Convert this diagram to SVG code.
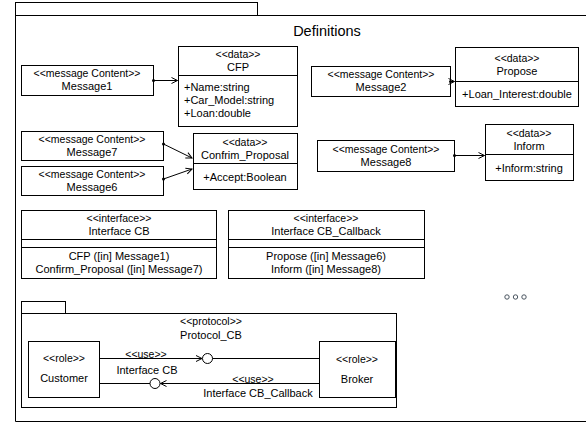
<svg xmlns="http://www.w3.org/2000/svg" width="586" height="423" viewBox="0 0 586 423">
<defs>
<style>
.b{fill:#fff;stroke:#000;stroke-width:1}
.l{stroke:#000;stroke-width:1;fill:none}
text{font-family:"Liberation Sans",Arial,sans-serif;font-size:11px;fill:#000;text-anchor:middle}
.s{font-size:10.5px}
.st{text-anchor:start}
</style>
<marker id="arr" markerWidth="8" markerHeight="8" refX="7" refY="4" orient="auto" markerUnits="userSpaceOnUse">
<path d="M1,1 L7,4 L1,7" fill="none" stroke="#000" stroke-width="1"/>
</marker>
<marker id="dot" markerWidth="4" markerHeight="4" refX="2" refY="2" markerUnits="userSpaceOnUse">
<circle cx="2" cy="2" r="1.5" fill="#000"/>
</marker>
</defs>
<rect width="586" height="423" fill="#fff"/>
<g id="frame">
<rect x="15.5" y="2.5" width="242" height="13" class="b"/>
<path d="M15.5,15.5 H590 M15.5,15.5 V421.5 H590" class="l"/>
<text x="327" y="36" style="font-size:14.5px">Definitions</text>
</g>
<g id="Message1">
<rect x="21.5" y="65.5" width="132" height="30" class="b"/>
<text x="87" y="77" class="s">&lt;&lt;message Content&gt;&gt;</text>
<text x="87" y="90">Message1</text>
</g>
<g id="CFP">
<rect x="178.5" y="46.5" width="119" height="80" class="b"/>
<line x1="178.5" y1="75.5" x2="297.5" y2="75.5" class="l"/>
<text x="238" y="58" class="s">&lt;&lt;data&gt;&gt;</text>
<text x="238" y="71">CFP</text>
<text x="184" y="91" class="st">+Name:string</text>
<text x="184" y="104" class="st">+Car_Model:string</text>
<text x="184" y="117" class="st">+Loan:double</text>
</g>
<g id="Message2">
<rect x="311.5" y="66.5" width="139" height="30" class="b"/>
<text x="381" y="78" class="s">&lt;&lt;message Content&gt;&gt;</text>
<text x="381" y="91">Message2</text>
</g>
<g id="Propose">
<rect x="455.5" y="47.5" width="123" height="59" class="b"/>
<line x1="455.5" y1="81.5" x2="578.5" y2="81.5" class="l"/>
<text x="517" y="62" class="s">&lt;&lt;data&gt;&gt;</text>
<text x="517" y="75">Propose</text>
<text x="517" y="98">+Loan_Interest:double</text>
</g>
<g id="Message7">
<rect x="21.5" y="131.5" width="142" height="29" class="b"/>
<text x="92" y="143" class="s">&lt;&lt;message Content&gt;&gt;</text>
<text x="92" y="156">Message7</text>
</g>
<g id="Message6">
<rect x="21.5" y="166.5" width="142" height="29" class="b"/>
<text x="92" y="178" class="s">&lt;&lt;message Content&gt;&gt;</text>
<text x="92" y="191">Message6</text>
</g>
<g id="Confirm_Proposal">
<rect x="193.5" y="133.5" width="104" height="56" class="b"/>
<line x1="193.5" y1="163.5" x2="297.5" y2="163.5" class="l"/>
<text x="245" y="146" class="s">&lt;&lt;data&gt;&gt;</text>
<text x="245" y="159">Confrim_Proposal</text>
<text x="245" y="181">+Accept:Boolean</text>
</g>
<g id="Message8">
<rect x="317.5" y="140.5" width="137" height="31" class="b"/>
<text x="386" y="153" class="s">&lt;&lt;message Content&gt;&gt;</text>
<text x="386" y="166">Message8</text>
</g>
<g id="Inform">
<rect x="485.5" y="124.5" width="88" height="56" class="b"/>
<line x1="485.5" y1="154.5" x2="573.5" y2="154.5" class="l"/>
<text x="529" y="137" class="s">&lt;&lt;data&gt;&gt;</text>
<text x="529" y="150">Inform</text>
<text x="529" y="172">+Inform:string</text>
</g>
<g id="InterfaceCB">
<rect x="21.5" y="210.5" width="195" height="68" class="b"/>
<line x1="21.5" y1="239.5" x2="216.5" y2="239.5" class="l"/>
<line x1="21.5" y1="247.5" x2="216.5" y2="247.5" class="l"/>
<text x="119" y="222" class="s">&lt;&lt;interface&gt;&gt;</text>
<text x="119" y="235">Interface CB</text>
<text x="119" y="260">CFP ([in] Message1)</text>
<text x="119" y="273">Confirm_Proposal ([in] Message7)</text>
</g>
<g id="InterfaceCB_Callback">
<rect x="228.5" y="210.5" width="196" height="68" class="b"/>
<line x1="228.5" y1="239.5" x2="424.5" y2="239.5" class="l"/>
<line x1="228.5" y1="247.5" x2="424.5" y2="247.5" class="l"/>
<text x="326" y="222" class="s">&lt;&lt;interface&gt;&gt;</text>
<text x="326" y="235">Interface CB_Callback</text>
<text x="326" y="260">Propose ([in] Message6)</text>
<text x="326" y="273">Inform ([in] Message8)</text>
</g>
<g id="more">
<circle cx="507" cy="297" r="2.2" fill="none" stroke="#4a5560" stroke-width="1"/>
<circle cx="515.5" cy="297" r="2.2" fill="none" stroke="#4a5560" stroke-width="1"/>
<circle cx="524" cy="297" r="2.2" fill="none" stroke="#4a5560" stroke-width="1"/>
</g>
<g id="Protocol_CB">
<rect x="21.5" y="301.5" width="44" height="12" class="b"/>
<rect x="21.5" y="313.5" width="375" height="94" class="b"/>
<text x="211" y="325" class="s">&lt;&lt;protocol&gt;&gt;</text>
<text x="211" y="339">Protocol_CB</text>
</g>
<g id="Customer">
<rect x="28.5" y="341.5" width="71" height="56" class="b"/>
<text x="64" y="362" class="s">&lt;&lt;role&gt;&gt;</text>
<text x="64" y="382">Customer</text>
</g>
<g id="Broker">
<rect x="319.5" y="341.5" width="76" height="56" class="b"/>
<text x="357" y="363" class="s">&lt;&lt;role&gt;&gt;</text>
<text x="357" y="383">Broker</text>
</g>
<g id="connectors">
<line x1="153.5" y1="80.5" x2="177.5" y2="80.5" class="l" marker-start="url(#dot)" marker-end="url(#arr)"/>
<line x1="450.5" y1="81.5" x2="454.5" y2="81.5" class="l" marker-start="url(#dot)" marker-end="url(#arr)"/>
<line x1="163.5" y1="144" x2="192" y2="158" class="l" marker-start="url(#dot)" marker-end="url(#arr)"/>
<line x1="163.5" y1="179" x2="192" y2="169" class="l" marker-start="url(#dot)" marker-end="url(#arr)"/>
<line x1="454.5" y1="155.5" x2="484.5" y2="155.5" class="l" marker-start="url(#dot)" marker-end="url(#arr)"/>
<line x1="99.5" y1="358.5" x2="202" y2="358.5" class="l" marker-end="url(#arr)"/>
<circle cx="207.5" cy="358.5" r="5" class="b"/>
<line x1="212.5" y1="358.5" x2="319.5" y2="358.5" class="l"/>
<text x="146" y="358" class="s">&lt;&lt;use&gt;&gt;</text>
<text x="147" y="374">Interface CB</text>
<line x1="99.5" y1="383.5" x2="150" y2="383.5" class="l"/>
<circle cx="155" cy="383.5" r="5" class="b"/>
<line x1="319.5" y1="383.5" x2="160.5" y2="383.5" class="l" marker-end="url(#arr)"/>
<text x="253" y="383" class="s">&lt;&lt;use&gt;&gt;</text>
<text x="258" y="397">Interface CB_Callback</text>
</g>
</svg>
